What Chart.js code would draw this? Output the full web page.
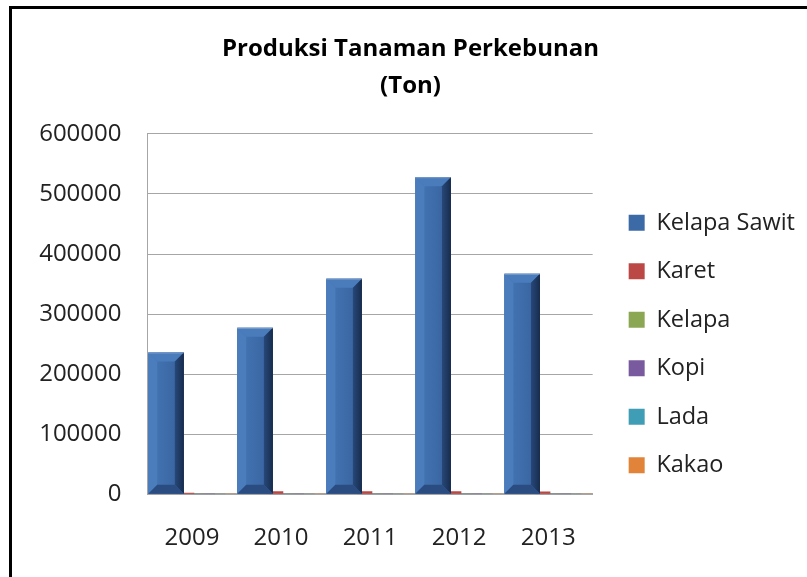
<!DOCTYPE html>
<html lang="id">
<head>
<meta charset="UTF-8">
<title>Produksi Tanaman Perkebunan</title>
<script src="https://cdn.jsdelivr.net/npm/chart.js"></script>
<style>
    html, body { margin: 0; padding: 0; background: #fff; }
    .frame {
        position: absolute; left: 9px; top: 6px;
        width: 798px; height: 571px;
        border-left: 3px solid #000; border-top: 3px solid #000;
        box-sizing: border-box;
    }
    canvas { display: block; }
</style>
</head>
<body>
<div class="frame">
    <canvas id="chart" width="795" height="568"></canvas>
</div>
<script>
    // data
    const years = ['2009', '2010', '2011', '2012', '2013'];
    const kelapaSawit = [236000, 277000, 359000, 528000, 367000];
    const karet = [2600, 4800, 4900, 5000, 4700];
    const kelapa = [210, 200, 190, 185, 180];
    const kopi = [60, 64, 62, 58, 55];
    const lada = [22, 24, 20, 18, 17];
    const kakao = [240, 255, 262, 270, 275];
    const yTicks = [0, 100000, 200000, 300000, 400000, 500000, 600000];

    const FONT = "'Open Sans', sans-serif";

    // bevel look for the big blue bars (Excel style)
    const bevelPlugin = {
        id: 'bevel',
        afterDatasetDraw(chart, args) {
            if (args.index !== 0) return;
            const ctx = chart.ctx;
            const area = chart.chartArea;
            ctx.save();
            ctx.beginPath();
            ctx.rect(area.left, area.top, area.right - area.left, area.bottom - area.top);
            ctx.clip();
            args.meta.data.forEach(bar => {
                const p = bar.getProps(['x', 'y', 'base', 'width'], true);
                const l = p.x - p.width / 2, r = p.x + p.width / 2;
                const t = p.y, b = p.base;
                const d = 9;
                // main face
                let g = ctx.createLinearGradient(l, 0, r, 0);
                g.addColorStop(0, '#4677b6');
                g.addColorStop(0.7, '#3b68a5');
                g.addColorStop(1, '#2c5189');
                ctx.fillStyle = g;
                ctx.fillRect(l, t, r - l, b - t);
                // top facet
                ctx.fillStyle = '#4a7cbc';
                ctx.beginPath();
                ctx.moveTo(l, t); ctx.lineTo(r, t); ctx.lineTo(r - d, t + d); ctx.lineTo(l + d, t + d);
                ctx.closePath(); ctx.fill();
                // left facet
                ctx.fillStyle = '#4b7dbd';
                ctx.beginPath();
                ctx.moveTo(l, t); ctx.lineTo(l + d, t + d); ctx.lineTo(l + d, b - d); ctx.lineTo(l, b);
                ctx.closePath(); ctx.fill();
                // right facet
                g = ctx.createLinearGradient(r - d, 0, r, 0);
                g.addColorStop(0, '#274879');
                g.addColorStop(1, '#172c4d');
                ctx.fillStyle = g;
                ctx.beginPath();
                ctx.moveTo(r, t); ctx.lineTo(r - d, t + d); ctx.lineTo(r - d, b - d); ctx.lineTo(r, b);
                ctx.closePath(); ctx.fill();
                // bottom facet
                ctx.fillStyle = '#2a4c80';
                ctx.beginPath();
                ctx.moveTo(l, b); ctx.lineTo(l + d, b - d); ctx.lineTo(r - d, b - d); ctx.lineTo(r, b);
                ctx.closePath(); ctx.fill();
                // light rim on top
                ctx.fillStyle = 'rgba(255,255,255,0.25)';
                ctx.fillRect(l, t, r - l, 1);
            });
            ctx.restore();
        }
    };

    function series(label, data, color) {
        return {
            label: label,
            data: data,
            backgroundColor: color,
            borderWidth: 0,
            categoryPercentage: 0.7,
            barPercentage: 3.43
        };
    }

    new Chart(document.getElementById('chart'), {
        type: 'bar',
        data: {
            labels: years,
            datasets: [
                series('Kelapa Sawit', kelapaSawit, '#3c6aa7'),
                series('Karet', karet, '#bc4845'),
                series('Kelapa', kelapa, '#8ca753'),
                series('Kopi', kopi, '#7a5a9f'),
                series('Lada', lada, '#3f9db5'),
                series('Kakao', kakao, '#e2833a')
            ]
        },
        options: {
            responsive: false,
            animation: false,
            layout: { padding: { top: 0, left: 4, right: 2, bottom: 2 } },
            plugins: {
                title: {
                    display: true,
                    text: ['Produksi Tanaman Perkebunan', '(Ton)'],
                    color: '#000',
                    font: { family: FONT, size: 24, weight: 'bold', lineHeight: 1.54 },
                    padding: { top: 22, bottom: 29 }
                },
                legend: {
                    position: 'right',
                    maxWidth: 300,
                    title: {
                        display: true,
                        text: ' ',
                        font: { family: FONT, size: 23.5 },
                        padding: { top: 0, bottom: 76 }
                    },
                    labels: {
                        color: '#222',
                        font: { family: FONT, size: 23.5 },
                        boxWidth: 16,
                        boxHeight: 16,
                        padding: 25
                    }
                },
                tooltip: { enabled: false }
            },
            scales: {
                x: {
                    grid: { display: false },
                    border: { color: '#a6a6a6', width: 2 },
                    ticks: { color: '#222', font: { family: FONT, size: 24 }, padding: 22 }
                },
                y: {
                    min: 0,
                    max: 600000,
                    afterBuildTicks: axis => { axis.ticks = yTicks.map(v => ({ value: v })); },
                    grid: { color: '#a6a6a6', lineWidth: 1, drawTicks: false },
                    border: { color: '#a6a6a6', width: 1 },
                    ticks: {
                        color: '#222',
                        font: { family: FONT, size: 24 },
                        padding: 26,
                        callback: v => String(v)
                    }
                },
                // empty axis that only keeps a gap between plot and legend
                gap: {
                    type: 'linear',
                    position: 'right',
                    display: true,
                    grid: { display: false },
                    border: { display: false },
                    ticks: { display: false },
                    afterFit: s => { s.width = 11; }
                }
            }
        },
        plugins: [bevelPlugin]
    });
</script>
</body>
</html>
